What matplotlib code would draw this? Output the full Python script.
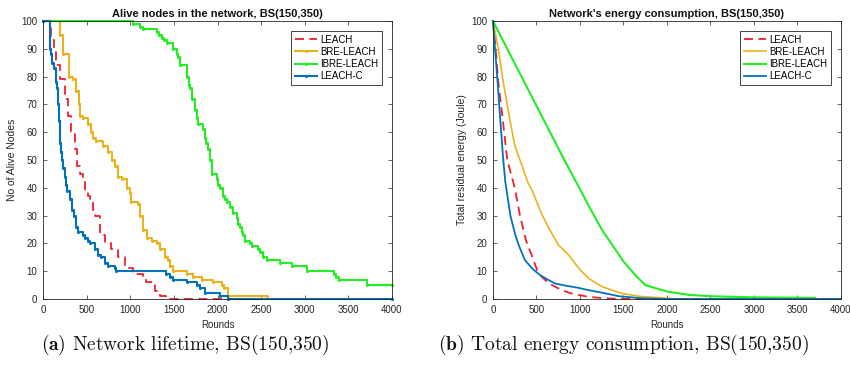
import matplotlib
matplotlib.use('Agg')
from matplotlib import pyplot as plt

# ---- alive nodes (step data: round, nodes) ----
leach_r = [0, 96, 122, 153, 199, 248, 287, 325, 363, 390, 420, 460, 478, 517, 535, 574, 592, 650, 707, 783, 860, 936, 1032, 1146, 1185, 1280, 1337, 1414, 4000]
leach_n = [100, 93, 90, 84, 79, 72, 66, 60, 54, 48, 45, 42, 39, 37, 35, 32, 30, 23, 20, 18, 15, 11, 9, 8, 6, 3, 1, 0, 0]

leachc_r = [0, 77, 96, 107, 122, 145, 161, 172, 184, 199, 210, 222, 229, 248, 260, 279, 314, 337, 360, 383, 402, 459, 478, 517, 536, 593, 632, 670, 708, 746, 823, 842, 1414, 1455, 1493, 1646, 1761, 1800, 1853, 2025, 2120, 4000]
leachc_n = [100, 90, 88, 85, 83, 78, 76, 70, 64, 56, 53, 50, 47, 44, 41, 39, 36, 32, 30, 26, 24, 23, 22, 21, 20, 18, 16, 15, 13, 12, 11, 10, 9, 8, 7, 6, 5, 4, 2, 1, 0, 0]

bre_r = [0, 191, 230, 300, 344, 383, 410, 421, 459, 517, 555, 574, 612, 689, 746, 785, 823, 861, 900, 957, 995, 1014, 1091, 1110, 1148, 1187, 1244, 1301, 1340, 1397, 1435, 1455, 1493, 1646, 1723, 1818, 1952, 2048, 2080, 2117, 2565]
bre_n = [100, 95, 88, 80, 79, 75, 70, 66, 65, 63, 60, 58, 57, 55, 53, 50, 48, 44, 43, 40, 38, 35, 34, 30, 25, 22, 21, 20, 18, 15, 14, 12, 10, 9, 8, 7, 6, 5, 4, 1, 1]

ibre_r = [0, 1033, 1110, 1148, 1301, 1330, 1359, 1390, 1416, 1493, 1530, 1550, 1569, 1646, 1670, 1684, 1710, 1742, 1760, 1780, 1837, 1856, 1870, 1895, 1914, 1933, 1990, 2010, 2029, 2067, 2090, 2105, 2140, 2182, 2220, 2240, 2258, 2280, 2297, 2316, 2373, 2392, 2469, 2488, 2526, 2565, 2718, 2852, 3024, 3330, 3360, 3388, 3713, 4000]
ibre_n = [100, 99, 98, 97, 96, 95, 94, 93, 92, 90, 88, 87, 84, 80, 77, 76, 72, 68, 65, 63, 61, 58, 56, 54, 50, 45, 43, 41, 40, 37, 36, 35, 33, 31, 29, 27, 26, 24, 23, 21, 20, 19, 18, 17, 15, 14, 13, 12, 10, 9, 8, 7, 5, 5]

# ---- residual energy ----
leach_er = [0, 30, 61, 107, 164, 250, 310, 380, 444, 506, 559, 650, 789, 900, 1095, 1300, 1600, 4000]
leach_e = [100, 90, 78, 66, 50, 40, 30, 21, 15.8, 10.5, 8, 5.5, 3.2, 2, 0.8, 0.2, 0, 0]

leachc_er = [0, 23, 53, 80, 118, 142, 176, 200, 257, 300, 367, 450, 540, 640, 712, 800, 985, 1095, 1215, 1450, 1700, 2000, 4000]
leachc_e = [100, 90, 78, 66, 50, 42, 35, 30, 23, 19, 14, 11, 8.6, 6.8, 5.6, 5, 4, 3.2, 2.5, 1, 0.3, 0, 0]

bre_er = [0, 61, 118, 195, 252, 310, 400, 450, 560, 650, 750, 865, 1000, 1100, 1250, 1480, 1700, 2000, 2100]
bre_e = [100, 90, 78, 64.3, 55, 50, 42, 39, 30.5, 25, 19.5, 16, 10.5, 7.4, 4.5, 2, 0.9, 0.3, 0]

ibre_er = [0, 250, 500, 820, 1000, 1095, 1250, 1500, 1636, 1750, 2000, 2250, 2500, 3000, 3700]
ibre_e = [100, 84.7, 69.5, 50, 39.5, 33.8, 25, 13.5, 8.6, 5, 2.7, 1.5, 1, 0.6, 0.4]

c_red = '#F0202A'
c_orange = '#EDB120'
c_green = '#22EE22'
c_blue = '#0072BD'
fg = '#262626'

plt.rcParams['font.family'] = ['Liberation Sans', 'DejaVu Sans']
plt.rcParams['mathtext.fontset'] = 'cm'

fig = plt.figure( figsize = ( 8.5 , 3.74 ) , dpi = 100 )
ax1 = fig.add_axes( [ 0.0506 , 0.2005 , 0.4106 , 0.7433 ] )
ax2 = fig.add_axes( [ 0.580 , 0.2005 , 0.4094 , 0.7433 ] )

ax1.step( leach_r , leach_n , where = 'post' , color = c_red , linestyle = ( 0 , ( 5 , 3 ) ) , linewidth = 1.3 , label = 'LEACH' , clip_on = False )
ax1.step( bre_r , bre_n , where = 'post' , color = c_orange , linewidth = 1.5 , marker = '.' , markersize = 2.5 , label = 'BRE-LEACH' , clip_on = False )
ax1.step( ibre_r , ibre_n , where = 'post' , color = c_green , linewidth = 1.5 , marker = '.' , markersize = 2.5 , label = 'IBRE-LEACH' , clip_on = False )
ax1.step( leachc_r , leachc_n , where = 'post' , color = c_blue , linewidth = 1.5 , marker = '.' , markersize = 2.5 , label = 'LEACH-C' , clip_on = False )

ax2.plot( leach_er , leach_e , color = c_red , linestyle = ( 0 , ( 5 , 3 ) ) , linewidth = 1.3 , label = 'LEACH' , clip_on = False )
ax2.plot( bre_er , bre_e , color = c_orange , linewidth = 1.2 , label = 'BRE-LEACH' , clip_on = False )
ax2.plot( ibre_er , ibre_e , color = c_green , linewidth = 1.5 , label = 'IBRE-LEACH' , clip_on = False )
ax2.plot( leachc_er , leachc_e , color = c_blue , linewidth = 1.3 , label = 'LEACH-C' , clip_on = False )

titles = [ 'Alive nodes in the network, BS(150,350)' , "Network's energy consumption, BS(150,350)" ]
ylabels = [ 'No of Alive Nodes' , 'Total residual energy (Joule)' ]

for ax , t , yl in zip( [ ax1 , ax2 ] , titles , ylabels ) :
    ax.set_xlim( 0 , 4000 )
    ax.set_ylim( 0 , 100 )
    ax.set_xticks( range( 0 , 4001 , 500 ) )
    ax.set_yticks( range( 0 , 101 , 10 ) )
    ax.tick_params( direction = 'in' , top = True , right = True , length = 3 , width = 0.5 , labelsize = 7 , colors = fg , pad = 4 )
    for s in ax.spines.values( ) :
        s.set_linewidth( 0.6 )
        s.set_color( fg )
    ax.set_title( t , fontsize = 8 , fontweight = 'bold' , color = '#111111' , pad = 3 )
    ax.set_xlabel( 'Rounds' , fontsize = 7 , color = fg , labelpad = 4 )
    ax.set_ylabel( yl , fontsize = 7.5 , color = fg , labelpad = 3 )
    leg = ax.legend( loc = 'upper right' , fontsize = 7 , fancybox = False , framealpha = 1 , edgecolor = fg , handlelength = 2.3 , labelspacing = 0.22 , borderaxespad = 1.0 , borderpad = 0.4 , handletextpad = 0.3 )
    leg.get_frame( ).set_linewidth( 0.6 )
    leg.set_zorder( 5 )

fig.text( 0.048 , 0.077 , r'$\mathbf{(a)}$ Network lifetime, BS(150,350)' , family = 'cmr10' , fontsize = 14 , color = '#111111' , va = 'center' )
fig.text( 0.515 , 0.077 , r'$\mathbf{(b)}$ Total energy consumption, BS(150,350)' , family = 'cmr10' , fontsize = 14 , color = '#111111' , va = 'center' )

fig.savefig( 'out.png' , dpi = 100 , facecolor = 'white' )
